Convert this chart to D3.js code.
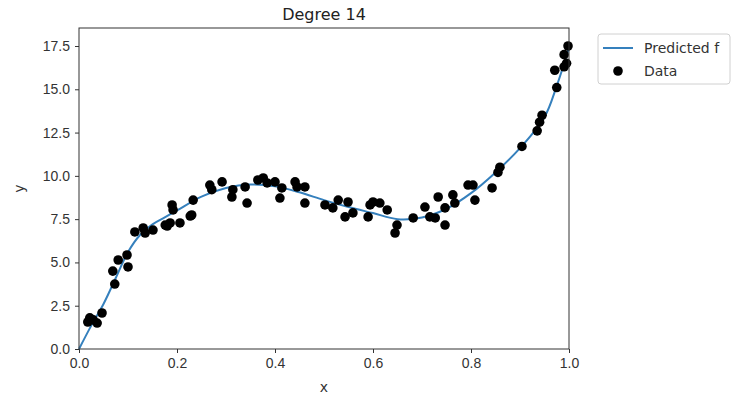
<!DOCTYPE html>
<html>
<head>
<meta charset="utf-8">
<script src="https://cdn.jsdelivr.net/npm/d3@7"></script>
<style>
  body { margin: 0; background: #fff; }
  svg { font-family: "DejaVu Sans", sans-serif; }
</style>
</head>
<body>
<div id="chart"></div>
<script>
// scatter data
const dataX = [0.018, 0.022, 0.029, 0.037, 0.047, 0.069, 0.073, 0.08, 0.098, 0.1,
  0.114, 0.131, 0.135, 0.151, 0.176, 0.18, 0.186, 0.19, 0.192, 0.206,
  0.227, 0.23, 0.233, 0.267, 0.271, 0.292, 0.312, 0.314, 0.339, 0.343,
  0.365, 0.376, 0.384, 0.4, 0.41, 0.414, 0.441, 0.445, 0.461, 0.461,
  0.502, 0.518, 0.529, 0.543, 0.549, 0.559, 0.59, 0.594, 0.6, 0.614,
  0.629, 0.645, 0.649, 0.682, 0.706, 0.716, 0.727, 0.733, 0.747, 0.747,
  0.763, 0.767, 0.794, 0.804, 0.808, 0.843, 0.855, 0.859, 0.904, 0.935,
  0.94, 0.945, 0.971, 0.975, 0.99, 0.99, 0.995, 0.998];
const dataY = [1.56, 1.8, 1.68, 1.5, 2.08, 4.5, 3.75, 5.14, 5.43, 4.74,
  6.76, 6.99, 6.7, 6.87, 7.16, 7.1, 7.28, 8.32, 8.03, 7.28,
  7.68, 7.74, 8.6, 9.47, 9.2, 9.65, 8.78, 9.2, 9.36, 8.43,
  9.76, 9.88, 9.59, 9.65, 8.72, 9.3, 9.65, 9.36, 9.36, 8.43,
  8.32, 8.15, 8.6, 7.63, 8.49, 7.86, 7.63, 8.32, 8.49, 8.43,
  8.03, 6.7, 7.16, 7.57, 8.2, 7.63, 7.57, 8.78, 7.16, 8.15,
  8.9, 8.43, 9.47, 9.47, 8.6, 9.3, 10.2, 10.5, 11.7, 12.6,
  13.1, 13.5, 16.1, 15.1, 16.3, 17.0, 16.5, 17.5];

// predicted curve samples
const fitX = [0, 0.025, 0.05, 0.075, 0.1, 0.125, 0.15, 0.175, 0.2, 0.25,
  0.3, 0.35, 0.4, 0.45, 0.5, 0.55, 0.6, 0.65, 0.7, 0.75,
  0.8, 0.85, 0.9, 0.95, 0.975, 1.0];
const fitY = [0, 1.35, 2.6, 4.1, 5.6, 6.6, 7.2, 7.6, 8.0, 8.8,
  9.3, 9.5, 9.4, 9.05, 8.6, 8.2, 7.85, 7.5, 7.6, 8.1,
  9.0, 10.2, 11.6, 13.4, 15.2, 17.4];

const xTicks = [0, 0.2, 0.4, 0.6, 0.8, 1.0];
const yTicks = [0, 2.5, 5, 7.5, 10, 12.5, 15, 17.5];

const width = 735, height = 394;
const margin = {left: 79, right: 166, top: 28, bottom: 45};

const svg = d3.select("#chart").append("svg")
    .attr("width", width)
    .attr("height", height);

const x = d3.scaleLinear().domain([0, 1]).range([margin.left, width - margin.right]);
const y = d3.scaleLinear().domain([0, 18.54]).range([height - margin.bottom, margin.top]);

// axes
const xAxis = svg.append("g")
    .attr("transform", `translate(0,${height - margin.bottom})`)
    .call(d3.axisBottom(x).tickValues(xTicks).tickFormat(d3.format(".1f")).tickSizeOuter(0).tickSize(4).tickPadding(5));
const yAxis = svg.append("g")
    .attr("transform", `translate(${margin.left},0)`)
    .call(d3.axisLeft(y).tickValues(yTicks).tickFormat(d3.format(".1f")).tickSizeOuter(0).tickSize(4).tickPadding(5));

[xAxis, yAxis].forEach(g => {
    g.select(".domain").remove();
    g.selectAll("line").attr("stroke", "#333");
    g.selectAll("text").attr("fill", "#333").style("font-size", "14px");
});

const lineGen = d3.line()
    .x((d, i) => x(fitX[i]))
    .y(d => y(d))
    .curve(d3.curveCatmullRom);

const plot = svg.append("g");
plot.append("path")
    .datum(fitY)
    .attr("d", lineGen)
    .attr("fill", "none")
    .attr("stroke", "#3580bd")
    .attr("stroke-width", 2);

plot.selectAll("circle")
    .data(dataX)
    .join("circle")
    .attr("cx", d => x(d))
    .attr("cy", (d, i) => y(dataY[i]))
    .attr("r", 4.8)
    .attr("fill", "#000");

// frame
svg.append("rect")
    .attr("x", margin.left).attr("y", margin.top)
    .attr("width", width - margin.right - margin.left)
    .attr("height", height - margin.bottom - margin.top)
    .attr("fill", "none")
    .attr("stroke", "#333")
    .attr("stroke-width", 1);

// labels
svg.append("text")
    .attr("x", (margin.left + width - margin.right) / 2)
    .attr("y", 20)
    .attr("text-anchor", "middle")
    .style("font-size", "16px")
    .attr("fill", "#222")
    .text("Degree 14");

svg.append("text")
    .attr("x", (margin.left + width - margin.right) / 2)
    .attr("y", 392)
    .attr("text-anchor", "middle")
    .style("font-size", "14px")
    .attr("fill", "#333")
    .text("x");

svg.append("text")
    .attr("transform", `translate(24,${(margin.top + height - margin.bottom) / 2}) rotate(-90)`)
    .attr("text-anchor", "middle")
    .style("font-size", "14px")
    .attr("fill", "#333")
    .text("y");

// legend
const legend = svg.append("g").attr("transform", "translate(598,34)");
legend.append("rect")
    .attr("width", 132).attr("height", 50).attr("rx", 3)
    .attr("fill", "#fff").attr("stroke", "#d0d0d0");
legend.append("line")
    .attr("x1", 5).attr("x2", 35).attr("y1", 14).attr("y2", 14)
    .attr("stroke", "#3580bd").attr("stroke-width", 2);
legend.append("circle")
    .attr("cx", 20).attr("cy", 37).attr("r", 4.8).attr("fill", "#000");
legend.append("text")
    .attr("x", 46).attr("y", 19)
    .style("font-size", "14px").attr("fill", "#333")
    .text("Predicted f");
legend.append("text")
    .attr("x", 46).attr("y", 42)
    .style("font-size", "14px").attr("fill", "#333")
    .text("Data");
</script>
</body>
</html>
